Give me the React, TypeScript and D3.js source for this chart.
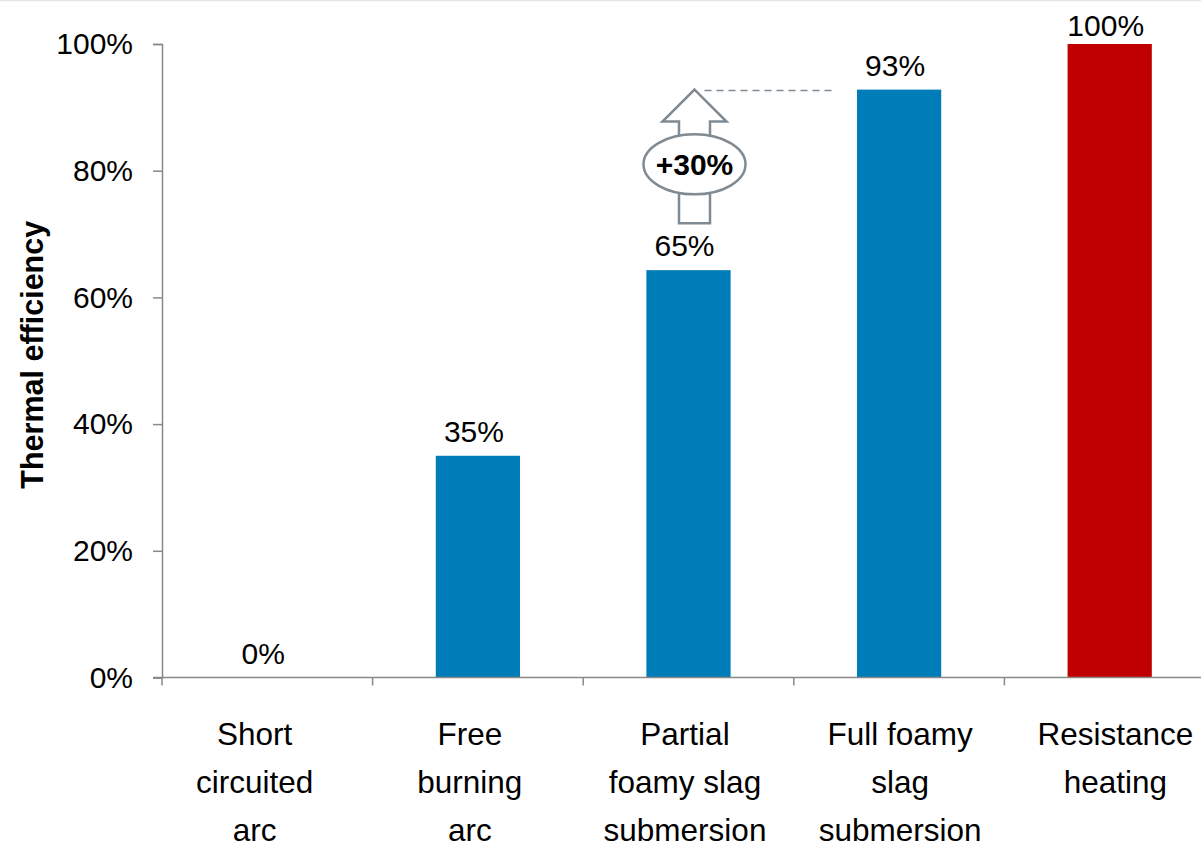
import React, { useEffect, useRef } from 'react';
import * as d3 from 'd3';

const categories = [
  ['Short', 'circuited', 'arc'],
  ['Free', 'burning', 'arc'],
  ['Partial', 'foamy slag', 'submersion'],
  ['Full foamy', 'slag', 'submersion'],
  ['Resistance', 'heating'],
];
const efficiency = [0, 0.35, 0.643, 0.928, 1.0];
const valueLabels = ['0%', '35%', '65%', '93%', '100%'];
const barColors = ['#007DB8', '#007DB8', '#007DB8', '#007DB8', '#C00000'];
const yTicks = [0, 0.2, 0.4, 0.6, 0.8, 1.0];

// "+30%" step arrow between partial and full submersion
const arrowFrom = 0.717;
const arrowTo = 0.928;
const arrowBadge = 0.81;
const arrowText = '+30%';

const FONT = 'Liberation Sans, Arial, sans-serif';

export default function App() {
  const svgRef = useRef<SVGSVGElement>(null);

  useEffect(() => {
    if (!svgRef.current) return;
    const width = 1201;
    const height = 845;

    const svg = d3.select(svgRef.current);
    svg.selectAll('*').remove();
    svg.attr('width', width).attr('height', height);

    const keys = categories.map((c) => c.join(' '));

    const x = d3.scaleBand<string>().domain(keys).range([162, 1215]).padding(0);
    // category text sits on a slightly wider pitch than the ticks
    const xLabel = d3.scaleBand<string>().domain(keys).range([147, 1223]).padding(0);
    const y = d3.scaleLinear().domain([0, 1]).range([677.5, 44]);
    const barW = x.bandwidth() * 0.4;

    // top border
    svg.append('line')
      .attr('x1', 0).attr('x2', width)
      .attr('y1', 0.5).attr('y2', 0.5)
      .attr('stroke', '#e6e6e6').attr('stroke-width', 1.5);

    // bars
    svg.selectAll('.bar')
      .data(efficiency)
      .enter()
      .append('rect')
      .attr('class', 'bar')
      .attr('x', (_d, i) => (x(keys[i]) || 0) + x.bandwidth() / 2 - barW / 2)
      .attr('width', barW)
      .attr('y', (d) => y(d))
      .attr('height', (d) => y(0) - y(d))
      .attr('fill', (_d, i) => barColors[i]);

    // value labels
    svg.selectAll('.val')
      .data(efficiency)
      .enter()
      .append('text')
      .attr('class', 'val')
      .attr('x', (_d, i) => (x(keys[i]) || 0) + x.bandwidth() / 2 - 4)
      .attr('y', (d) => Math.max(y(d) - 14, 36))
      .attr('text-anchor', 'middle')
      .attr('font-family', FONT)
      .attr('font-size', 30)
      .attr('fill', '#000')
      .text((_d, i) => valueLabels[i]);

    // y axis
    const yAxis = svg.append('g')
      .attr('transform', 'translate(162,0)')
      .call(d3.axisLeft(y).tickValues(yTicks).tickFormat(d3.format('.0%')).tickSize(9).tickPadding(20));
    yAxis.select('.domain').attr('stroke', '#898989').attr('stroke-width', 1.5);
    yAxis.selectAll('.tick line').attr('stroke', '#898989').attr('stroke-width', 1.5);
    yAxis.selectAll('.tick text')
      .attr('font-family', FONT)
      .attr('font-size', 30)
      .attr('fill', '#000');

    // x axis
    svg.append('line')
      .attr('x1', 153).attr('x2', width)
      .attr('y1', y(0)).attr('y2', y(0))
      .attr('stroke', '#898989').attr('stroke-width', 1.5);
    svg.selectAll('.xtick')
      .data(keys)
      .enter()
      .append('line')
      .attr('class', 'xtick')
      .attr('x1', (d) => x(d) || 0)
      .attr('x2', (d) => x(d) || 0)
      .attr('y1', y(0))
      .attr('y2', y(0) + 8)
      .attr('stroke', '#898989')
      .attr('stroke-width', 1.5);

    const cat = svg.selectAll('.cat')
      .data(categories)
      .enter()
      .append('text')
      .attr('class', 'cat')
      .attr('text-anchor', 'middle')
      .attr('font-family', FONT)
      .attr('font-size', 31.5)
      .attr('fill', '#000');
    cat.each(function (lines, i) {
      const cx = (xLabel(keys[i]) || 0) + xLabel.bandwidth() / 2;
      d3.select(this)
        .selectAll('tspan')
        .data(lines)
        .enter()
        .append('tspan')
        .attr('x', cx)
        .attr('y', (_l, j) => 745 + j * 48)
        .text((l) => l);
    });

    // y axis title
    svg.append('text')
      .attr('transform', `translate(43,${(y(0) + y(1)) / 2 - 6}) rotate(-90)`)
      .attr('text-anchor', 'middle')
      .attr('font-family', FONT)
      .attr('font-size', 30.5)
      .attr('font-weight', 'bold')
      .attr('fill', '#000')
      .text('Thermal efficiency');

    // annotation arrow
    const ax = (x(keys[2]) || 0) + x.bandwidth() / 2 + 6;
    const tipY = y(arrowTo);
    const headY = tipY + 32;
    const baseY = y(arrowFrom);
    const shaft = 15.5;
    const head = 32;
    const stroke = '#7f8a92';
    const arrow = d3.path();
    arrow.moveTo(ax, tipY);
    arrow.lineTo(ax + head, headY);
    arrow.lineTo(ax + shaft, headY);
    arrow.lineTo(ax + shaft, baseY);
    arrow.lineTo(ax - shaft, baseY);
    arrow.lineTo(ax - shaft, headY);
    arrow.lineTo(ax - head, headY);
    arrow.closePath();

    const fullLeft = (x(keys[3]) || 0) + x.bandwidth() / 2 - barW / 2;
    svg.append('line')
      .attr('x1', ax + 10).attr('x2', fullLeft - 25)
      .attr('y1', tipY + 1).attr('y2', tipY + 1)
      .attr('stroke', stroke)
      .attr('stroke-width', 1.5)
      .attr('stroke-dasharray', '7 5');

    svg.append('path')
      .attr('d', arrow.toString())
      .attr('fill', '#fff')
      .attr('stroke', stroke)
      .attr('stroke-width', 2.5)
      .attr('stroke-linejoin', 'miter');

    svg.append('ellipse')
      .attr('cx', ax).attr('cy', y(arrowBadge))
      .attr('rx', 51).attr('ry', 30)
      .attr('fill', '#fff')
      .attr('stroke', stroke)
      .attr('stroke-width', 2.5);

    svg.append('text')
      .attr('x', ax)
      .attr('y', y(arrowBadge) + 11)
      .attr('text-anchor', 'middle')
      .attr('font-family', FONT)
      .attr('font-size', 30)
      .attr('font-weight', 'bold')
      .attr('fill', '#000')
      .text(arrowText);
  }, []);

  return (
    <svg
      ref={svgRef}
      style={{ position: 'absolute', left: 0, top: 0, background: '#fff' }}
    />
  );
}
